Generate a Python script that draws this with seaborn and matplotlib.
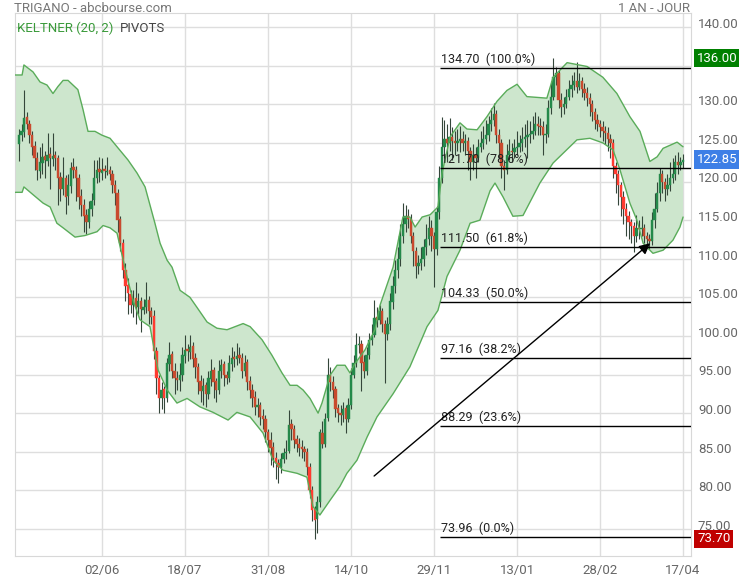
import numpy as np
import pandas as pd
import matplotlib
matplotlib.use('Agg')
import matplotlib.pyplot as plt
import matplotlib.transforms as mtransforms
from matplotlib.ticker import FuncFormatter
import seaborn as sns

# --- Cours journaliers TRIGANO (une séance par index, 0..256) ---
opens = [
    124.8, 126.0, 126.4, 128.3, 127.4, 126.0, 124.6, 123.0, 121.4, 122.4,
    123.3, 122.7, 123.6, 122.9, 123.4, 123.0, 120.6, 119.0, 120.4, 118.1,
    119.4, 121.9, 121.5, 120.4, 118.1, 117.0, 115.6, 114.8, 116.4, 117.6,
    120.4, 121.6, 121.1, 121.6, 121.2, 121.5, 121.0, 119.6, 118.5, 115.1,
    112.0, 108.6, 106.6, 105.4, 104.0, 104.9, 103.7, 104.5, 103.4, 103.8,
    104.7, 103.2, 102.6, 98.1, 94.6, 92.0, 93.1, 92.0, 96.4, 97.6,
    95.5, 94.6, 94.3, 94.9, 97.4, 98.3, 97.9, 98.7, 97.1, 96.0,
    94.1, 92.8, 93.6, 92.5, 94.4, 95.6, 94.1, 93.0, 95.4, 96.3,
    95.0, 94.6, 96.4, 97.3, 97.0, 97.5, 97.2, 95.5, 96.6, 94.1,
    93.0, 92.1, 90.8, 91.1, 89.6, 89.2, 87.6, 86.5, 85.6, 84.2,
    83.6, 83.0, 84.0, 84.8, 85.1, 88.6, 88.0, 86.6, 86.0, 85.6,
    85.3, 85.0, 83.0, 80.1, 77.6, 76.3, 78.5, 87.4, 86.0, 89.4,
    95.0, 94.0, 93.1, 90.6, 90.0, 89.8, 90.6, 89.3, 91.0, 95.0,
    96.5, 98.8, 99.0, 96.6, 95.5, 97.5, 99.5, 100.1, 102.4, 102.0,
    103.2, 101.6, 100.2, 101.5, 104.4, 106.5, 108.5, 110.0, 113.0, 114.5,
    115.5, 115.2, 113.0, 111.0, 109.0, 109.5, 110.0, 111.5, 112.5, 114.0,
    113.0, 111.3, 116.0, 120.5, 124.5, 125.5, 125.0, 125.8, 125.3, 125.0,
    125.2, 125.5, 125.0, 125.3, 124.0, 122.5, 123.5, 123.0, 124.5, 125.0,
    125.5, 126.0, 127.5, 128.0, 128.8, 126.0, 125.0, 122.0, 121.5, 123.5,
    124.0, 123.8, 124.3, 124.5, 125.0, 125.5, 125.8, 126.0, 126.2, 126.5,
    127.5, 127.2, 127.0, 126.0, 126.2, 129.5, 131.0, 133.5, 134.0, 130.5,
    129.7, 130.0, 131.0, 132.0, 132.5, 133.0, 132.3, 133.0, 132.0, 131.5,
    130.8, 130.0, 129.0, 128.0, 127.5, 127.0, 126.5, 126.3, 125.5, 125.0,
    122.0, 121.0, 119.5, 118.0, 116.5, 115.5, 114.8, 114.2, 113.0, 114.0,
    113.8, 114.0, 113.0, 112.5, 112.3, 115.0, 116.5, 118.5, 121.0, 120.0,
    119.0, 119.5, 120.5, 121.0, 122.5, 122.2, 122.5,
]
highs = [
    126.8, 127.5, 131.8, 129.0, 128.0, 126.5, 125.2, 123.8, 124.5, 125.0,
    124.0, 126.3, 124.5, 126.3, 124.0, 123.5, 121.2, 123.2, 120.8, 121.0,
    122.5, 123.0, 122.0, 121.0, 119.0, 117.8, 116.5, 117.5, 118.5, 122.8,
    122.8, 123.2, 123.0, 122.2, 123.2, 122.0, 121.5, 120.2, 119.0, 115.5,
    112.5, 109.5, 107.5, 106.0, 106.0, 107.0, 105.5, 105.0, 104.8, 107.0,
    105.2, 103.8, 103.4, 98.5, 95.0, 94.0, 93.5, 97.2, 99.2, 98.0,
    96.5, 95.5, 96.5, 98.5, 100.1, 99.0, 100.1, 99.2, 97.8, 96.5,
    95.0, 94.5, 94.0, 95.5, 97.0, 96.0, 94.5, 96.9, 97.0, 96.8,
    95.5, 97.5, 98.5, 98.0, 99.1, 98.5, 97.8, 97.5, 97.0, 94.8,
    93.8, 92.8, 92.0, 91.5, 90.5, 89.8, 88.0, 87.5, 86.2, 85.0,
    84.0, 84.8, 85.5, 86.5, 90.4, 89.2, 88.5, 87.2, 86.8, 86.5,
    85.8, 85.5, 83.5, 80.5, 78.0, 79.2, 88.0, 89.0, 90.0, 97.1,
    96.0, 94.8, 93.5, 91.2, 91.0, 91.5, 91.0, 92.0, 95.8, 97.5,
    100.4, 100.0, 99.5, 97.5, 98.5, 100.4, 101.5, 104.7, 103.8, 104.0,
    103.6, 102.0, 102.5, 105.5, 107.8, 109.8, 111.5, 114.5, 117.2, 117.0,
    116.5, 115.8, 113.5, 111.5, 110.5, 111.5, 112.5, 114.5, 115.5, 115.0,
    113.5, 116.8, 122.0, 128.4, 128.0, 127.5, 128.2, 127.0, 126.5, 126.8,
    127.2, 126.5, 126.2, 125.8, 124.5, 124.8, 124.5, 125.5, 126.5, 127.2,
    128.0, 128.5, 129.5, 130.2, 129.2, 126.8, 125.5, 122.8, 124.8, 125.5,
    125.0, 125.5, 126.5, 126.0, 127.0, 127.5, 128.0, 127.8, 128.5, 129.0,
    128.5, 128.2, 127.8, 127.5, 130.5, 133.0, 136.0, 134.8, 134.5, 131.5,
    131.0, 132.0, 133.2, 133.8, 134.2, 135.5, 134.0, 133.5, 132.8, 132.2,
    131.5, 130.5, 129.5, 128.8, 128.0, 127.8, 127.2, 127.0, 126.2, 125.5,
    122.5, 121.5, 120.0, 118.8, 117.2, 116.2, 115.2, 114.8, 115.7, 115.0,
    115.5, 114.5, 113.5, 113.2, 116.0, 118.5, 120.0, 121.8, 121.5, 120.5,
    121.0, 122.5, 123.0, 123.5, 123.8, 123.2, 123.6,
]
lows = [
    122.6, 125.2, 125.8, 126.8, 125.0, 123.5, 121.5, 120.2, 120.5, 121.0,
    120.5, 122.0, 119.0, 122.0, 121.5, 117.0, 117.5, 118.2, 115.8, 117.0,
    118.5, 120.5, 117.5, 116.5, 115.5, 113.5, 113.2, 114.0, 115.5, 117.0,
    119.8, 120.0, 120.2, 120.5, 120.8, 120.2, 118.5, 117.0, 113.5, 111.0,
    107.5, 104.5, 102.9, 103.0, 102.5, 101.5, 102.8, 100.5, 102.8, 103.0,
    101.5, 101.5, 97.0, 92.5, 90.0, 90.5, 90.0, 91.5, 95.5, 94.5,
    92.5, 93.0, 92.8, 94.2, 96.5, 96.8, 97.0, 96.0, 94.5, 92.5,
    91.5, 91.0, 90.8, 91.8, 93.5, 92.0, 91.5, 92.5, 94.5, 93.5,
    93.8, 94.0, 95.5, 96.0, 96.2, 96.5, 94.5, 94.8, 93.0, 92.0,
    90.8, 89.8, 89.5, 88.5, 88.0, 86.2, 85.0, 83.3, 83.0, 81.5,
    80.9, 82.2, 83.5, 84.0, 84.8, 86.5, 85.5, 85.0, 84.5, 84.2,
    83.8, 82.0, 79.0, 76.0, 73.7, 74.5, 77.8, 85.5, 85.6, 89.0,
    92.8, 92.0, 89.5, 88.8, 88.5, 88.8, 87.4, 88.8, 90.5, 94.5,
    96.0, 97.8, 92.8, 94.5, 95.0, 97.0, 98.8, 99.8, 101.2, 101.5,
    100.5, 93.9, 99.5, 100.8, 103.5, 105.5, 107.5, 109.0, 112.0, 113.5,
    114.0, 112.0, 109.0, 107.5, 108.0, 108.5, 109.0, 110.5, 111.8, 111.0,
    106.3, 110.5, 115.2, 119.8, 123.0, 122.5, 124.0, 122.8, 123.5, 124.0,
    123.8, 124.0, 123.5, 121.5, 120.2, 121.5, 120.5, 122.5, 123.8, 124.2,
    124.8, 125.2, 126.5, 127.2, 125.0, 123.0, 120.5, 118.9, 121.0, 122.8,
    122.5, 123.0, 123.5, 123.8, 124.0, 124.5, 123.0, 125.0, 125.5, 126.0,
    126.0, 126.0, 123.5, 125.0, 125.8, 128.8, 130.5, 132.5, 129.5, 128.3,
    128.8, 129.5, 130.5, 131.0, 131.8, 131.5, 131.8, 131.0, 130.5, 129.8,
    128.5, 127.8, 126.8, 126.5, 125.8, 125.2, 124.8, 124.0, 123.0, 120.5,
    118.5, 117.0, 115.5, 114.5, 113.0, 112.5, 112.0, 110.9, 112.2, 112.5,
    113.0, 112.0, 111.5, 111.3, 111.8, 114.0, 116.0, 117.5, 118.5, 117.5,
    118.2, 118.8, 119.8, 120.2, 121.0, 121.5, 121.8,
]
closes = [
    126.0, 126.5, 128.2, 127.5, 126.0, 124.5, 123.0, 121.5, 122.5, 123.2,
    122.8, 123.5, 123.0, 123.3, 123.0, 120.5, 119.0, 120.5, 118.0, 119.5,
    121.8, 121.5, 120.5, 118.0, 117.0, 115.5, 114.8, 116.5, 117.5, 120.5,
    121.5, 121.2, 121.5, 121.3, 121.4, 121.0, 119.5, 118.5, 115.0, 112.0,
    108.5, 106.5, 105.5, 104.0, 104.8, 103.8, 104.5, 103.5, 103.8, 104.6,
    103.2, 102.5, 98.0, 94.5, 92.0, 93.0, 92.0, 96.5, 97.5, 95.5,
    94.5, 94.3, 95.0, 97.5, 98.2, 98.0, 98.6, 97.0, 96.0, 94.0,
    92.8, 93.5, 92.5, 94.5, 95.5, 94.0, 93.0, 95.5, 96.2, 95.0,
    94.6, 96.5, 97.2, 97.0, 97.4, 97.2, 95.5, 96.5, 94.0, 93.0,
    92.0, 90.8, 91.0, 89.5, 89.2, 87.5, 86.5, 85.5, 84.2, 83.5,
    83.0, 84.0, 84.8, 85.0, 88.5, 88.0, 86.5, 86.0, 85.5, 85.3,
    85.0, 83.0, 80.0, 77.5, 76.2, 78.5, 87.5, 86.0, 89.2, 95.0,
    94.0, 93.0, 90.5, 90.0, 89.8, 90.5, 89.3, 91.0, 95.0, 96.5,
    98.8, 99.0, 96.5, 95.5, 97.5, 99.5, 100.0, 102.3, 102.0, 103.2,
    101.5, 100.2, 101.5, 104.5, 106.5, 108.5, 110.0, 113.0, 114.5, 115.5,
    115.2, 113.0, 111.0, 109.0, 109.5, 110.0, 111.5, 112.5, 114.0, 113.0,
    111.3, 116.0, 120.5, 124.5, 125.5, 125.0, 125.8, 125.3, 125.0, 125.2,
    125.5, 125.0, 125.3, 124.0, 122.5, 123.5, 123.0, 124.5, 125.0, 125.5,
    126.0, 127.5, 128.0, 128.8, 126.0, 125.0, 122.0, 121.5, 123.5, 124.0,
    123.8, 124.3, 124.5, 125.0, 125.5, 125.8, 126.0, 126.2, 126.5, 127.5,
    127.2, 127.0, 126.0, 126.2, 129.5, 131.0, 133.5, 134.0, 130.5, 129.7,
    130.0, 131.0, 132.0, 132.5, 133.0, 132.3, 133.0, 132.0, 131.5, 130.8,
    130.0, 129.0, 128.0, 127.5, 127.0, 126.5, 126.3, 125.5, 125.0, 122.0,
    121.0, 119.5, 118.0, 116.5, 115.5, 114.8, 114.2, 113.0, 114.0, 113.8,
    114.0, 113.0, 112.5, 112.3, 115.0, 116.5, 118.5, 121.0, 120.0, 119.0,
    119.5, 120.5, 121.0, 122.5, 122.2, 122.5, 122.85,
]

# Axe des dates (index de séance des graduations)
tick_pos = [32, 64, 96, 128, 160, 192, 224, 256]
tick_labels = ['02/06', '18/07', '31/08', '14/10', '29/11', '13/01', '28/02', '17/04']

# Bandes de Keltner (20, 2)
upper_idx = [-1.5, 1.2, 1.9, 5.4, 8.1, 10.8, 13.1, 15.0, 17.0, 18.9,
             22.7, 24.7, 26.6, 29.3, 32.0, 35.1, 37.8, 42.0, 45.5, 48.6,
             52.4, 54.4, 57.1, 59.0, 62.1, 65.9, 68.6, 72.5, 76.3, 80.2,
             86.4, 89.1, 93.7, 97.5, 101.4, 104.5, 107.2, 109.5, 112.2, 115.3,
             116.8, 119.9, 122.6, 125.7, 127.6, 129.5, 133.4, 137.2, 139.2, 144.2,
             148.0, 150.7, 152.7, 155.4, 158.5, 161.5, 163.1, 166.2, 170.0, 172.7,
             176.6, 180.4, 184.3, 188.1, 192.0, 195.8, 203.5, 205.9, 211.3, 219.0,
             225.1, 230.5, 235.5, 239.4, 243.2, 246.0, 248.3, 253.7, 256.0]
upper_val = [133.8, 133.8, 135.1, 134.2, 132.9, 132.5, 131.4, 132.3, 133.1, 133.1,
             131.9, 129.3, 126.5, 126.5, 126.0, 125.6, 124.5, 122.8, 121.1, 119.3,
             114.6, 112.0, 109.8, 108.9, 105.9, 105.0, 103.7, 101.8, 101.0, 100.8,
             101.6, 101.2, 99.5, 97.5, 95.2, 93.6, 93.6, 93.0, 91.9, 90.0,
             91.3, 94.9, 96.2, 96.2, 95.2, 96.4, 98.2, 100.8, 104.0, 108.9,
             115.4, 115.4, 114.1, 115.4, 115.7, 116.7, 121.1, 125.8, 127.6, 126.8,
             126.7, 128.4, 130.4, 131.8, 132.6, 131.0, 130.8, 133.5, 135.4, 134.9,
             133.5, 131.4, 128.4, 126.5, 122.6, 123.2, 124.3, 125.1, 124.5]
lower_idx = [-1.5, 1.2, 1.9, 5.4, 9.3, 12.0, 14.6, 17.0, 21.6, 25.4,
             30.1, 32.4, 35.1, 37.8, 41.6, 43.9, 46.6, 50.5, 53.6, 57.1,
             60.9, 64.8, 69.8, 74.8, 80.6, 84.0, 89.1, 94.1, 97.9, 101.8,
             107.2, 111.0, 113.3, 116.0, 119.9, 123.7, 126.4, 130.3, 134.2, 138.0,
             144.2, 150.7, 157.3, 161.5, 165.0, 170.0, 173.9, 177.7, 181.6, 183.5,
             186.6, 190.4, 194.3, 200.8, 205.9, 215.1, 220.1, 225.1, 229.0, 231.7,
             235.5, 238.2, 240.6, 244.4, 248.3, 252.1, 254.8, 256.0]
lower_val = [118.6, 118.6, 119.3, 118.3, 117.2, 116.7, 114.6, 114.0, 112.8, 113.0,
             113.5, 114.3, 114.0, 113.3, 107.7, 104.7, 102.1, 101.2, 95.6, 93.0,
             91.3, 91.9, 90.8, 90.1, 89.1, 90.1, 89.5, 87.4, 83.9, 82.6,
             82.2, 81.7, 77.9, 76.8, 78.7, 80.5, 82.2, 83.9, 86.9, 89.5,
             92.5, 96.0, 101.2, 103.3, 107.7, 111.1, 114.6, 115.0, 118.8, 119.8,
             118.0, 115.5, 115.6, 119.8, 122.4, 125.4, 125.6, 125.0, 124.1, 121.5,
             117.2, 115.0, 112.0, 110.7, 111.1, 112.4, 114.1, 115.4]

# Retracements de Fibonacci
fib_levels = [134.70, 121.70, 111.50, 104.33, 97.16, 88.29, 73.96]
fib_pcts = [100.0, 78.6, 61.8, 50.0, 38.2, 23.6, 0.0]
fib_start = 162.3

# Flèche tracée sur le graphique (index, cours)
arrow_from = (136.9, 81.85)
arrow_to = (243.3, 112.0)

price_high = 136.00
price_last = 122.85
price_low = 73.70

df = pd.DataFrame({'open': opens, 'high': highs, 'low': lows, 'close': closes})
df['idx'] = np.arange(len(df))

sns.set_style('whitegrid', {'grid.color': '#dedede', 'axes.edgecolor': '#d8d8d8'})
plt.rcParams['font.family'] = ['Roboto', 'DejaVu Sans']

fig = plt.figure(figsize=(7.39, 5.80), dpi=100)
ax = fig.add_axes([15 / 739, 24 / 580, 676 / 739, 543 / 580])

# bande de Keltner
poly_x = upper_idx + lower_idx[::-1]
poly_y = upper_val + lower_val[::-1]
ax.fill(poly_x, poly_y, color='#cde6cd', lw=0, zorder=1)
sns.lineplot(x=upper_idx, y=upper_val, ax=ax, color='#5aac5a', lw=1, sort=False, estimator=None, zorder=5)
sns.lineplot(x=lower_idx, y=lower_val, ax=ax, color='#5aac5a', lw=1, sort=False, estimator=None, zorder=5)

# chandeliers
low_band = np.interp(df['idx'], lower_idx, lower_val)
up = df['close'] >= df['open']
colors = np.where(up, '#24894a', np.where(df['close'] < low_band, '#ff3b30', '#c94a2e'))
ax.vlines(df['idx'], df['low'], df['high'], color='#34463a', lw=0.8, zorder=3)
body_bottom = np.minimum(df['open'], df['close'])
body_h = np.maximum(np.abs(df['close'] - df['open']), 0.2)
ax.bar(df['idx'], body_h, bottom=body_bottom, width=0.9, color=colors,
       edgecolor=colors, lw=0.3, zorder=4)

# Fibonacci
xmax = 259.06
ax.hlines(fib_levels, fib_start, xmax, color='black', lw=1, zorder=6)
for lvl, pct in zip(fib_levels, fib_pcts):
    ax.annotate(f'{lvl:.2f}  ({pct:.1f}%)', xy=(fib_start, lvl), xytext=(1, 1.5),
                textcoords='offset points', ha='left', va='bottom', fontsize=9, color='#222', zorder=7)

ax.annotate('', xy=arrow_to, xytext=arrow_from,
            arrowprops=dict(arrowstyle='-|>', color='black', lw=1, mutation_scale=16,
                            shrinkA=0, shrinkB=0), zorder=7)

ax.set_xlim(-1.54, xmax)
ax.set_ylim(71.49, 141.83)

ax.yaxis.tick_right()
ax.set_yticks(np.arange(75, 141, 5))
# 135 est masqué par l'étiquette du plus haut
ax.yaxis.set_major_formatter(FuncFormatter(lambda v, p: '' if abs(v - 135) < 0.01 else f'{v:.2f}'))
ax.set_xticks(tick_pos)
ax.set_xticklabels(tick_labels)
ax.tick_params(axis='y', length=0, pad=5, labelsize=9.5, labelcolor='#666')
ax.tick_params(axis='x', length=0, pad=6, labelsize=9.5, labelcolor='#666')
ax.grid(True, color='#dedede', lw=1)
ax.set_xlabel('')
ax.set_ylabel('')
shift = mtransforms.ScaledTranslation(0, 3 / 72, fig.dpi_scale_trans)
for lab in ax.get_yticklabels():
    lab.set_transform(lab.get_transform() + shift)

trans = mtransforms.blended_transform_factory(ax.transAxes, ax.transData)
for val, fc in [(price_high, '#008000'), (price_last, '#3d7fe6'), (price_low, '#c00000')]:
    ax.text(1.0 + 6 / 676, val, f'{val:.2f}', transform=trans, ha='left', va='center',
            fontsize=9.5, color='white', clip_on=False, zorder=20,
            bbox=dict(boxstyle='square,pad=0.2', fc=fc, ec='none'))

# en-têtes
fig.text(14 / 739, 1 - 8 / 580, 'TRIGANO - abcbourse.com', ha='left', va='center', fontsize=9.5, color='#777')
fig.text(690 / 739, 1 - 8 / 580, '1 AN - JOUR', ha='right', va='center', fontsize=9.5, color='#777')
ax.text(2 / 676, 1 - 15 / 543, 'KELTNER (20, 2)', transform=ax.transAxes, ha='left', va='center',
        fontsize=9.5, color='#3a9a3a', zorder=8)
ax.text(105 / 676, 1 - 15 / 543, 'PIVOTS', transform=ax.transAxes, ha='left', va='center',
        fontsize=9.5, color='#444', zorder=8)

fig.savefig('out.png', dpi=100)
